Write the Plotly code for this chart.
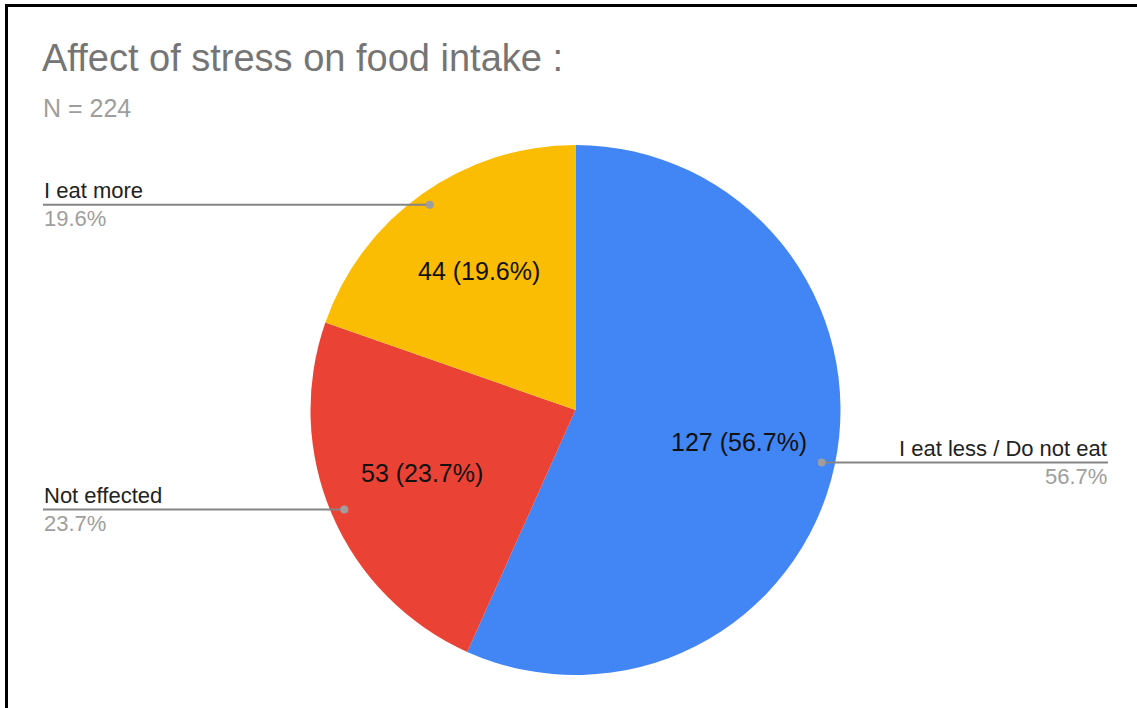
import math
import plotly.graph_objects as go

# ---- data ----
categories = ["I eat less / Do not eat", "Not effected", "I eat more"]
counts = [127, 53, 44]
colors = ["#4285F4", "#EA4335", "#FBBC04"]
title_text = "Affect of stress on food intake :"
subtitle_text = "N = 224"

W, H = 1137, 708
CX, CY, R = 575.5, 410.0, 265.0   # pie centre / radius in pixels

def px(x):
    return x / W

def py(y):
    return 1 - y / H

total = sum(counts)
pcts = [c / total * 100 for c in counts]

fig = go.Figure(go.Pie(
    labels=categories,
    values=counts,
    marker=dict(colors=colors, line=dict(width=0)),
    sort=False,
    direction="clockwise",
    rotation=0,
    textinfo="none",
    hoverinfo="label+value+percent",
    showlegend=False,
    domain=dict(x=[px(CX - R), px(CX + R)], y=[py(CY + R), py(CY - R)]),
))

annotations = []
shapes = []
FONT = "Arial, Liberation Sans, sans-serif"

cum = 0.0
for cat, c, p in zip(categories, counts, pcts):
    mid = (cum + c / 2) / total * 2 * math.pi
    cum += c
    sx, sy = math.sin(mid), -math.cos(mid)
    # inside label
    ri = 0.63 * R
    annotations.append(dict(
        x=px(CX + ri * sx), y=py(CY + ri * sy - 3), xref="paper", yref="paper",
        text=f"{c} ({p:.1f}%)", showarrow=False,
        font=dict(family=FONT, size=25, color="#111111"),
        xanchor="center", yanchor="middle"))
    # leader
    rd = 0.95 * R
    dx, dy = CX + rd * sx, CY + rd * sy
    right = sx > 0
    ex = 1108 if right else 43
    shapes.append(dict(type="line", xref="paper", yref="paper",
                       x0=px(ex), x1=px(dx), y0=py(dy), y1=py(dy),
                       line=dict(color="#858585", width=2)))
    shapes.append(dict(type="circle", xref="paper", yref="paper",
                       x0=px(dx - 4), x1=px(dx + 4), y0=py(dy - 4), y1=py(dy + 4),
                       fillcolor="#9e9e9e", line=dict(width=0)))
    anchor = "right" if right else "left"
    annotations.append(dict(
        x=px(ex), y=py(dy - 1), xref="paper", yref="paper",
        text=cat, showarrow=False,
        font=dict(family=FONT, size=22, color="#222222"),
        xanchor=anchor, yanchor="bottom", borderpad=0))
    annotations.append(dict(
        x=px(ex), y=py(dy + 0.5), xref="paper", yref="paper",
        text=f"{p:.1f}%", showarrow=False,
        font=dict(family=FONT, size=22, color="#9e9e9e"),
        xanchor=anchor, yanchor="top", borderpad=0))

annotations.append(dict(
    x=px(41), y=py(36), xref="paper", yref="paper", text=title_text,
    showarrow=False, font=dict(family=FONT, size=38, color="#757575"),
    xanchor="left", yanchor="top", borderpad=0))
annotations.append(dict(
    x=px(42), y=py(93), xref="paper", yref="paper", text=subtitle_text,
    showarrow=False, font=dict(family=FONT, size=25, color="#9e9e9e"),
    xanchor="left", yanchor="top", borderpad=0))

# frame
shapes.append(dict(type="line", xref="paper", yref="paper",
                   x0=px(5), x1=1, y0=py(5.5), y1=py(5.5),
                   line=dict(color="#000000", width=3)))
shapes.append(dict(type="line", xref="paper", yref="paper",
                   x0=px(6.5), x1=px(6.5), y0=py(4), y1=0,
                   line=dict(color="#000000", width=3)))

fig.update_layout(
    width=W, height=H,
    margin=dict(l=0, r=0, t=0, b=0),
    paper_bgcolor="white", plot_bgcolor="white",
    annotations=annotations, shapes=shapes,
    font=dict(family=FONT),
)

fig.write_html("out.html")
